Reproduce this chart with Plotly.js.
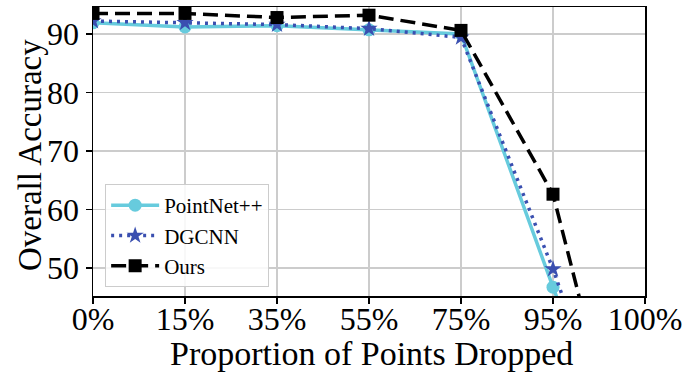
<!DOCTYPE html>
<html><head><meta charset="utf-8">
<script src="https://cdn.plot.ly/plotly-3.0.1.min.js"></script>
<style>html,body{margin:0;padding:0;background:#fff}#c{width:694px;height:372px}</style>
</head><body><div id="c"></div>
<script>
const categories = ["0%", "15%", "35%", "55%", "75%", "95%", "100%"];
const pointnet = [91.9, 91.2, 91.4, 90.7, 90.0, 46.7, 5];
const dgcnn = [92.2, 91.9, 91.6, 90.9, 89.4, 49.8, 5];
const ours = [93.5, 93.5, 92.8, 93.2, 90.6, 62.6, 1];
const yTicks = [50, 60, 70, 80, 90];
const xTitle = "Proportion of Points Dropped";
const yTitle = "Overall Accuracy";

const xs = categories.map((_, i) => i);
const font = "Liberation Serif, Times New Roman, serif";

const traces = [
  {x: xs, y: pointnet, name: "PointNet++", mode: "lines+markers",
   line: {color: "#67cbdd", width: 3.5}, marker: {symbol: "circle", size: 13, color: "#67cbdd"}, cliponaxis: true},
  {x: xs, y: dgcnn, name: "DGCNN", mode: "lines+markers",
   line: {color: "#3a4fb0", width: 3.5, dash: "3px,5px"}, marker: {symbol: "star", size: 13, color: "#3a4fb0"}, cliponaxis: true},
  {x: xs, y: ours, name: "Ours", mode: "lines+markers",
   line: {color: "#000000", width: 3.5, dash: "15px,7px"}, marker: {symbol: "square", size: 13, color: "#000000"}, cliponaxis: true}
];

const layout = {
  width: 694, height: 372,
  margin: {l: 93, r: 49, t: 7, b: 76},
  paper_bgcolor: "#fff", plot_bgcolor: "#fff",
  font: {family: font, color: "#000"},
  showlegend: true,
  legend: {x: 0.022, y: 0.031, xanchor: "left", yanchor: "bottom",
    bgcolor: "rgba(255,255,255,0.85)", bordercolor: "#cccccc", borderwidth: 1,
    itemwidth: 48,
    font: {family: font, size: 21, color: "#000"}, tracegroupgap: 0},
  xaxis: {range: [0, 6], tickvals: xs, ticktext: categories,
    showgrid: true, gridcolor: "#cccccc", gridwidth: 1.3,
    showline: true, linecolor: "#000", linewidth: 1.5, mirror: true,
    ticks: "outside", ticklen: 6, tickwidth: 1.3, tickcolor: "#000",
    ticklabelstandoff: -12,
    zeroline: false, tickfont: {family: font, size: 32, color: "#000"}},
  yaxis: {range: [45.2, 94.6], tickvals: yTicks,
    showgrid: true, gridcolor: "#cccccc", gridwidth: 1.3,
    showline: true, linecolor: "#000", linewidth: 1.5, mirror: true,
    ticks: "outside", ticklen: 6, tickwidth: 1.3, tickcolor: "#000",
    zeroline: false, tickfont: {family: font, size: 32, color: "#000"}},
  annotations: [
    {text: xTitle, xref: "paper", yref: "paper", x: 0.505, y: -0.198,
     xanchor: "center", yanchor: "middle", showarrow: false,
     font: {family: font, size: 34, color: "#000"}},
    {text: yTitle, xref: "paper", yref: "paper", x: -0.114, y: 0.488,
     xanchor: "center", yanchor: "middle", textangle: -90, showarrow: false,
     font: {family: font, size: 33, color: "#000"}}
  ]
};

Plotly.newPlot("c", traces, layout, {staticPlot: true, displayModeBar: false});
</script></body></html>
